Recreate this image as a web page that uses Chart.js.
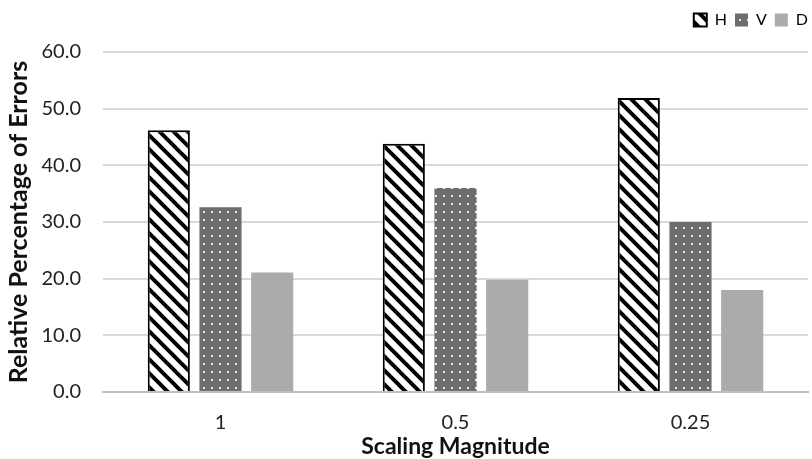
<!DOCTYPE html>
<html>
<head>
<meta charset="utf-8">
<script src="https://cdn.jsdelivr.net/npm/chart.js@4/dist/chart.umd.min.js"></script>
<style>
  html, body { margin: 0; padding: 0; background: #fff; }
  #wrap { width: 812px; height: 459px; }
</style>
</head>
<body>
<div id="wrap"><canvas id="chart" width="812" height="459"></canvas></div>
<script>
// data
const categories = ['1', '0.5', '0.25']
const seriesNames = ['H', 'V', 'D']
const hValues = [46.2, 43.8, 51.9]
const vValues = [32.6, 36.0, 30.0]
const dValues = [21.1, 19.8, 18.0]
const yTicks = [0, 10, 20, 30, 40, 50, 60]

const FONT = 'Lato, "Open Sans", sans-serif'

// fill patterns like the original office chart
function stripePattern() {
    const c = document.createElement('canvas')
    c.width = 14; c.height = 14
    const g = c.getContext('2d')
    g.fillStyle = '#fff'
    g.fillRect(0, 0, 14, 14)
    g.strokeStyle = '#000'
    g.lineWidth = 4
    for (const k of [-14, 0, 14]) {
        g.beginPath()
        g.moveTo(k - 2, -2)
        g.lineTo(k + 16, 16)
        g.stroke()
    }
    return g.createPattern(c, 'repeat')
}

function dotPattern() {
    const c = document.createElement('canvas')
    c.width = 8; c.height = 8
    const g = c.getContext('2d')
    g.fillStyle = '#6d6d6d'
    g.fillRect(0, 0, 8, 8)
    g.fillStyle = '#e8e8e8'
    g.fillRect(3, 3, 2, 2)
    return g.createPattern(c, 'repeat')
}

// legend sits a bit further right and leaves more room under it
const legendTweak = {
    id: 'legendTweak',
    beforeInit(chart) {
        const fit = chart.legend.fit
        chart.legend.fit = function () {
            fit.call(this)
            this.height += 14
        }
    },
    afterLayout(chart) {
        chart.legend.left += 8
        chart.legend.right += 8
    }
}

const ctx = document.getElementById('chart').getContext('2d')
new Chart(ctx, {
    type: 'bar',
    data: {
        labels: categories,
        datasets: [
            {label: seriesNames[0], data: hValues, backgroundColor: stripePattern(), borderColor: '#000', borderWidth: 2},
            {label: seriesNames[1], data: vValues, backgroundColor: dotPattern(), borderColor: '#6d6d6d', borderWidth: 0},
            {label: seriesNames[2], data: dValues, backgroundColor: '#ababab', borderColor: '#ababab', borderWidth: 0}
        ]
    },
    plugins: [legendTweak],
    options: {
        responsive: false,
        animation: false,
        layout: {padding: {left: 4, right: 4, top: 4, bottom: 0}},
        datasets: {bar: {categoryPercentage: 0.66, barPercentage: 0.815}},
        plugins: {
            legend: {
                position: 'top',
                align: 'end',
                labels: {
                    boxWidth: 13, boxHeight: 13, padding: 8,
                    color: '#000',
                    font: {family: FONT, size: 16}
                }
            },
            tooltip: {enabled: false}
        },
        scales: {
            x: {
                afterFit: scale => { scale.height = 67 },
                grid: {display: false, drawTicks: false},
                border: {color: '#bfbfbf', width: 2},
                ticks: {color: '#222', padding: 19, font: {family: FONT, size: 20}},
                title: {display: true, text: 'Scaling Magnitude', color: '#111', padding: {top: 0, bottom: -1},
                    font: {family: FONT, size: 23, weight: 'bold'}}
            },
            y: {
                min: 0, max: 60,
                afterBuildTicks: axis => { axis.ticks = yTicks.map(v => ({value: v})) },
                afterFit: scale => { scale.width = 99 },
                grid: {color: '#d9d9d9', lineWidth: 2, drawTicks: false},
                border: {display: false},
                ticks: {color: '#222', padding: 22, font: {family: FONT, size: 20},
                    callback: v => Number(v).toFixed(1)},
                title: {display: true, text: 'Relative Percentage of Errors', color: '#111', padding: {top: 0, bottom: 0},
                    font: {family: FONT, size: 25, weight: 'bold'}}
            }
        }
    }
})
</script>
</body>
</html>
